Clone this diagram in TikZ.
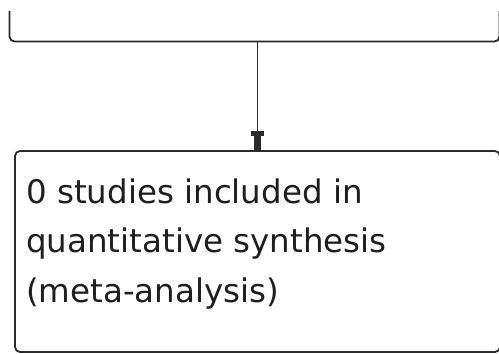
\documentclass[tikz,border=0pt]{standalone}
\usepackage{fontspec}
\newfontfamily\boxfont{DejaVu Sans}
\usetikzlibrary{arrows.meta}
\definecolor{linegray}{HTML}{2A2A2A}
\definecolor{textgray}{HTML}{1E1E1E}
\tikzset{
  flowbox/.style={draw=linegray, line width=1.8pt, rounded corners=5pt, rectangle, inner sep=0pt, outer sep=0pt},
  conn/.style={draw=linegray, line width=1.8pt,
    -{Rectangle[length=5pt,width=13pt,sep=0pt] Rectangle[length=15pt,width=7pt,sep=0pt]}},
  boxtext/.style={font={\boxfont\fontsize{32.5pt}{49.5pt}\selectfont}, text=textgray, align=left, inner sep=0pt}
}
\begin{document}
\begin{tikzpicture}[x=1pt,y=1pt]
  \useasboundingbox (0,0) rectangle (499,-354);
  \begin{scope}
    \clip (0,-11) rectangle (520,-80);
    \node (top) [flowbox, anchor=south west, minimum width=490pt, minimum height=90pt] at (9.5,-41.5) {};
  \end{scope}
  \node (bot) [flowbox, anchor=north west, minimum width=485pt, minimum height=201pt] at (15,-151) {};
  \draw[conn] (top.south -| bot.north) -- (bot.north);
  \node (txt) [boxtext, anchor=base west] at (26,-302) {0 studies included in\\quantitative synthesis\\(meta-analysis)};
\end{tikzpicture}
\end{document}
